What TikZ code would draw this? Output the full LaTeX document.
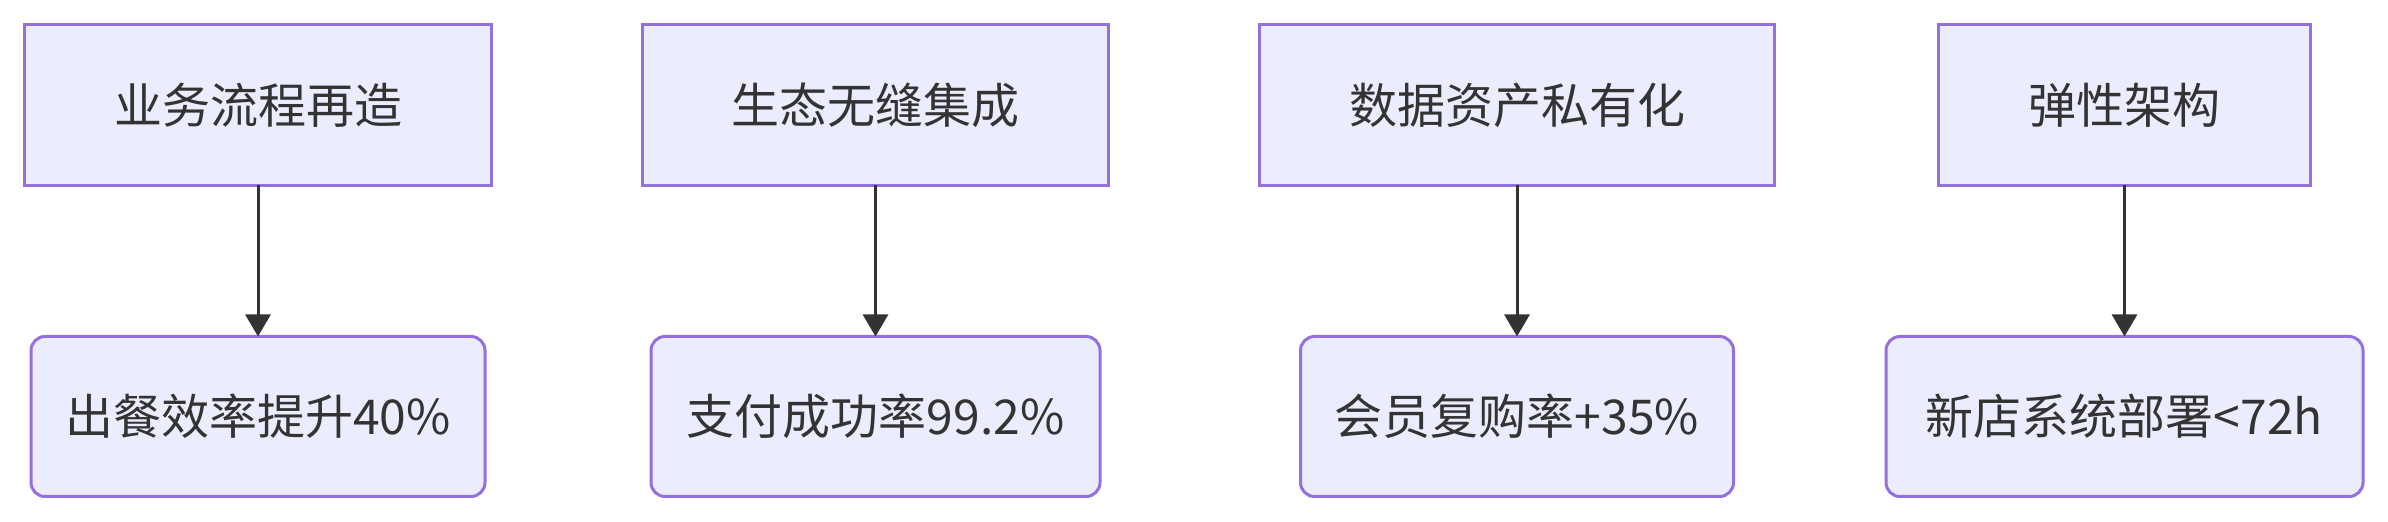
\documentclass[tikz,border=0pt]{standalone}
\usepackage{fontspec}
\setmainfont{Noto Sans CJK SC}
\usetikzlibrary{positioning,arrows.meta}
\definecolor{boxfill}{HTML}{ECECFF}
\definecolor{boxline}{HTML}{9370DB}
\definecolor{ink}{HTML}{333333}
\begin{document}
\begin{tikzpicture}[
  goal/.style={draw=boxline,fill=boxfill,line width=1.5pt,text=ink,inner sep=0pt,outer sep=0pt,
    minimum height=80.5pt,font=\fontsize{24pt}{28pt}\selectfont},
  result/.style={goal,rounded corners=7pt,minimum height=80pt},
  link/.style={-{Triangle[width=12.5pt,length=11pt]},draw=ink,line width=1.5pt}]
  \useasboundingbox (0,0) rectangle (1194pt,-261pt);
  \node (0) [goal,minimum width=233.5pt] at (129pt,-52.5pt) {业务流程再造};
  \node (1) [goal,minimum width=233pt,right=75.5pt of 0] {生态无缝集成};
  \node (2) [goal,minimum width=257.5pt,right=75.5pt of 1] {数据资产私有化};
  \node (3) [goal,minimum width=186pt,right=82pt of 2] {弹性架构};
  \node (4) [result,minimum width=227pt,below=75.5pt of 0] {出餐效率提升40\%};
  \node (5) [result,minimum width=224.5pt,below=75.5pt of 1] {支付成功率99.2\%};
  \node (6) [result,minimum width=216.5pt,below=75.5pt of 2] {会员复购率+35\%};
  \node (7) [result,minimum width=238.5pt,below=75.5pt of 3] {新店系统部署<72h};
  \draw[link] (0) -- (4);
  \draw[link] (1) -- (5);
  \draw[link] (2) -- (6);
  \draw[link] (3) -- (7);
\end{tikzpicture}
\end{document}
